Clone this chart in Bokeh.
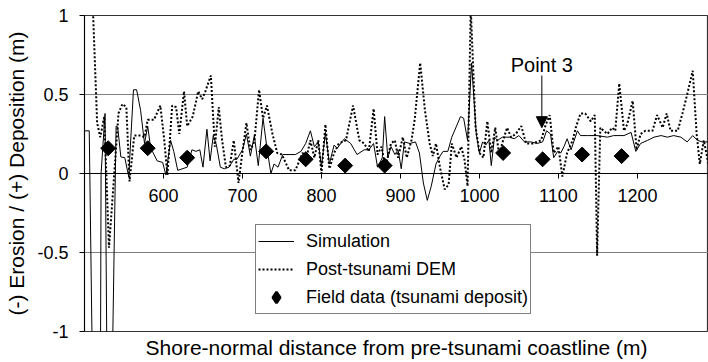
from bokeh.plotting import figure
from bokeh.models import (FixedTicker, LinearAxis, Legend, LegendItem,
                          Arrow, NormalHead, Label, Title, Range1d)
from bokeh.embed import file_html
from bokeh.resources import INLINE
import numpy as np

# ---------------- data ----------------
sim_x = [500, 506, 511, 520, 521, 526, 529, 534, 540, 542, 546, 551, 556, 562, 566, 571, 576, 580,
         583, 586, 592, 599, 603, 609, 613, 618, 630, 636, 641, 646, 650, 655, 659, 663, 667, 672,
         677, 683, 689, 693, 700, 705, 710, 715, 720, 726, 731, 736, 740, 745, 751, 759, 767, 774,
         780, 786, 791, 796, 800, 805, 810, 816, 820, 829, 837, 845, 854, 860, 866, 871, 877, 880,
         884, 888, 893, 897, 901, 905, 912, 919, 924, 929, 934, 939, 945, 950, 954, 960, 965, 971,
         976, 980, 985, 990, 996, 1000, 1004, 1008, 1012, 1015, 1019, 1023, 1029, 1038, 1044, 1050,
         1057, 1065, 1073, 1080, 1085, 1090, 1094, 1099, 1103, 1107, 1111, 1116, 1124, 1128, 1137,
         1149, 1162, 1170, 1183, 1192, 1198, 1204, 1213, 1221, 1230, 1238, 1246, 1255, 1263, 1270,
         1276, 1282, 1290]
sim_y = [0.27, 0.27, -1.6, -1.6, 0.0, 0.38, -1.6, -1.6, 0.30, 0.295, 0.105, 0.10, -0.02, 0.53, 0.53,
         0.40, 0.19, 0.30, 0.19, 0.14, 0.08, 0.07, -0.01, 0.21, 0.14, 0.02, 0.04, 0.15, 0.14, 0.15,
         0.04, 0.28, 0.08, 0.24, 0.18, 0.04, 0.03, 0.04, 0.09, 0.09, 0.15, 0.25, 0.11, 0.24, 0.05,
         0.35, 0.16, 0.0, 0.06, 0.04, 0.12, 0.12, 0.12, 0.14, 0.19, 0.27, 0.17, 0.20, 0.04, 0.26,
         0.06, 0.18, 0.16, 0.22, 0.19, 0.12, 0.15, 0.15, 0.19, 0.04, 0.10, 0.36, 0.10, 0.17, 0.12,
         0.15, 0.03, 0.20, 0.19, 0.20, 0.13, -0.06, -0.17, -0.08, 0.06, 0.11, 0.14, 0.14, 0.23, 0.30,
         0.36, 0.35, 0.21, 0.70, 0.25, 0.13, 0.20, 0.18, 0.21, 0.05, 0.23, 0.21, 0.23, 0.23, 0.22,
         0.24, 0.20, 0.20, 0.19, 0.20, 0.27, 0.25, 0.10, 0.14, 0.13, 0.17, 0.22, 0.15, 0.27, 0.24,
         0.24, 0.24, 0.23, 0.24, 0.24, 0.26, 0.14, 0.19, 0.21, 0.23, 0.24, 0.23, 0.24, 0.23, 0.20,
         0.24, 0.21, 0.20, 0.20]

dem_x = [508, 516, 520, 525, 531, 537, 543, 548, 553, 557, 563, 571, 576, 580, 588, 596, 601, 605,
         611, 616, 620, 626, 630, 637, 644, 649, 653, 660, 665, 670, 674, 679, 684, 689, 695, 699,
         705, 710, 715, 721, 726, 731, 738, 744, 750, 759, 767, 776, 781, 786, 791, 796, 800, 805,
         810, 816, 822, 831, 840, 848, 854, 860, 866, 871, 876, 881, 888, 893, 897, 903, 908, 914,
         918, 925, 931, 937, 941, 945, 950, 956, 961, 965, 971, 977, 981, 985, 989, 995, 1000, 1005,
         1010, 1015, 1020, 1025, 1030, 1035, 1040, 1046, 1053, 1059, 1067, 1078, 1084, 1089, 1094,
         1100, 1105, 1111, 1118, 1122, 1128, 1134, 1141, 1146, 1149, 1153, 1162, 1168, 1172, 1177,
         1183, 1187, 1194, 1199, 1204, 1210, 1219, 1225, 1232, 1237, 1242, 1251, 1257, 1263, 1270,
         1275, 1279, 1284, 1290]
dem_y = [1.4, 0.32, 0.23, 0.36, -0.47, -0.05, 0.38, 0.44, 0.42, -0.05, 0.24, 0.24, 0.23, 0.34, 0.34,
         0.43, 0.21, -0.01, 0.43, 0.42, 0.25, 0.52, 0.30, 0.36, 0.52, 0.47, 0.52, 0.62, 0.17, 0.42,
         0.22, 0.04, 0.05, 0.21, -0.06, 0.10, 0.32, 0.15, 0.20, 0.53, 0.35, 0.43, 0.25, 0.13, 0.12,
         0.02, 0.02, 0.13, 0.10, 0.21, 0.10, 0.21, 0.0, 0.31, 0.03, 0.13, 0.19, 0.21, 0.43, 0.21,
         0.19, 0.14, 0.41, 0.12, 0.17, 0.04, 0.19, 0.21, 0.10, 0.23, 0.10, 0.21, 0.34, 0.70, 0.40,
         0.19, 0.11, 0.19, 0.04, -0.10, -0.07, 0.19, 0.10, 0.17, 0.09, -0.08, 1.05, 0.30, 0.13, 0.10,
         0.33, 0.13, 0.29, 0.12, 0.21, 0.29, 0.23, 0.25, 0.30, 0.19, 0.19, 0.21, 0.31, 0.37, 0.13,
         0.17, -0.02, 0.13, 0.21, 0.29, 0.38, 0.38, 0.33, 0.37, -0.52, 0.29, 0.25, 0.29, 0.27, 0.57,
         0.27, 0.31, 0.46, 0.15, 0.25, 0.27, 0.27, 0.37, 0.29, 0.38, 0.27, 0.27, 0.38, 0.50, 0.65,
         0.25, 0.06, 0.21, 0.06]

field_x = [530, 580, 630, 730, 780, 830, 880, 1030, 1080, 1130, 1180]
field_y = [0.16, 0.16, 0.10, 0.14, 0.09, 0.05, 0.05, 0.13, 0.09, 0.12, 0.11]

x_ticks = [600, 700, 800, 900, 1000, 1100, 1200]
y_ticks = [-1, -0.5, 0, 0.5, 1]
y_tick_labels = ["-1", "-0.5", "0", "0.5", "1"]

annot_text = "Point 3"
annot_x = 1079
annot_text_y = 0.685
arrow_y_start = 0.62
arrow_y_end = 0.29

FONT = "Liberation Sans"

# ---------------- figure ----------------
p = figure(width=708, height=362, output_backend="svg", toolbar_location=None,
           x_range=Range1d(500, 1290), y_range=Range1d(-1, 1),
           x_axis_location=None,
           min_border_left=84, min_border_right=0, min_border_top=15, min_border_bottom=31)

p.background_fill_color = "white"
p.border_fill_color = "white"
p.outline_line_color = "#333333"
p.outline_line_width = 1.2

# y axis
yax = p.yaxis[0]
yax.ticker = FixedTicker(ticks=y_ticks)
yax.major_label_overrides = {t: l for t, l in zip(y_ticks, y_tick_labels)}
yax.minor_tick_line_color = None
yax.major_tick_out = 5
yax.major_tick_in = 0
yax.major_label_standoff = 11
yax.major_label_text_font = FONT
yax.major_label_text_font_size = "18px"
yax.major_label_text_color = "black"
yax.axis_label = "(-) Erosion / (+) Deposition (m)"
yax.axis_label_text_font = FONT
yax.axis_label_text_font_size = "21px"
yax.axis_label_text_font_style = "normal"
yax.axis_label_text_color = "black"
yax.axis_label_standoff = 6
yax.axis_line_color = "black"

# x axis crossing at y = 0
xax = LinearAxis(fixed_location=0, ticker=FixedTicker(ticks=x_ticks))
xax.minor_tick_line_color = None
xax.major_tick_out = 5
xax.major_tick_in = 0
xax.major_label_standoff = 10
xax.major_label_text_font = FONT
xax.major_label_text_font_size = "18px"
xax.major_label_text_color = "black"
xax.axis_line_color = "black"
p.add_layout(xax, "below")

p.add_layout(Title(text="Shore-normal distance from pre-tsunami coastline (m)", align="center",
                   text_font=FONT, text_font_size="21px", text_font_style="normal",
                   text_color="black", standoff=5, offset=0), "below")

# grid
p.xgrid.visible = False
p.ygrid.ticker = FixedTicker(ticks=[-0.5, 0.5])
p.ygrid.grid_line_color = "#808080"
p.ygrid.grid_line_width = 1

# ---------------- glyphs ----------------
sim = p.line(sim_x, sim_y, line_color="black", line_width=1)
dem = p.line(dem_x, dem_y, line_color="black", line_width=2, line_dash="2 2")
p.scatter(field_x, field_y, marker="square", angle=np.pi / 4, size=10.6,
          fill_color="black", line_color="black")
# hidden twin used only as the legend swatch (legend swatches are never rotated)
fld_key = p.scatter(field_x, field_y, marker="diamond", fill_color="black",
                    line_color="black", line_width=2.5, visible=False)

# annotation
p.add_layout(Label(x=annot_x, y=annot_text_y, text=annot_text, text_align="center",
                   text_baseline="alphabetic", text_font=FONT, text_font_size="20px",
                   text_color="black"))
p.add_layout(Arrow(end=NormalHead(size=11, fill_color="black", line_color="black"),
                   x_start=annot_x, y_start=arrow_y_start, x_end=annot_x, y_end=arrow_y_end,
                   line_color="black", line_width=1))

# legend
legend = Legend(items=[LegendItem(label="Simulation", renderers=[sim]),
                       LegendItem(label="Post-tsunami DEM", renderers=[dem]),
                       LegendItem(label="Field data (tsunami deposit)", renderers=[fld_key])],
                location=(171, 17))
legend.label_text_font = FONT
legend.label_text_font_size = "18px"
legend.label_text_color = "black"
legend.border_line_color = "black"
legend.border_line_width = 1
legend.background_fill_color = "white"
legend.background_fill_alpha = 1
legend.inactive_fill_alpha = 0
legend.padding = 2
legend.margin = 0
legend.spacing = 0
legend.glyph_width = 36
legend.glyph_height = 28
legend.label_height = 28
legend.label_standoff = 12
p.add_layout(legend, "center")

open("out.html", "w").write(file_html(p, INLINE))
